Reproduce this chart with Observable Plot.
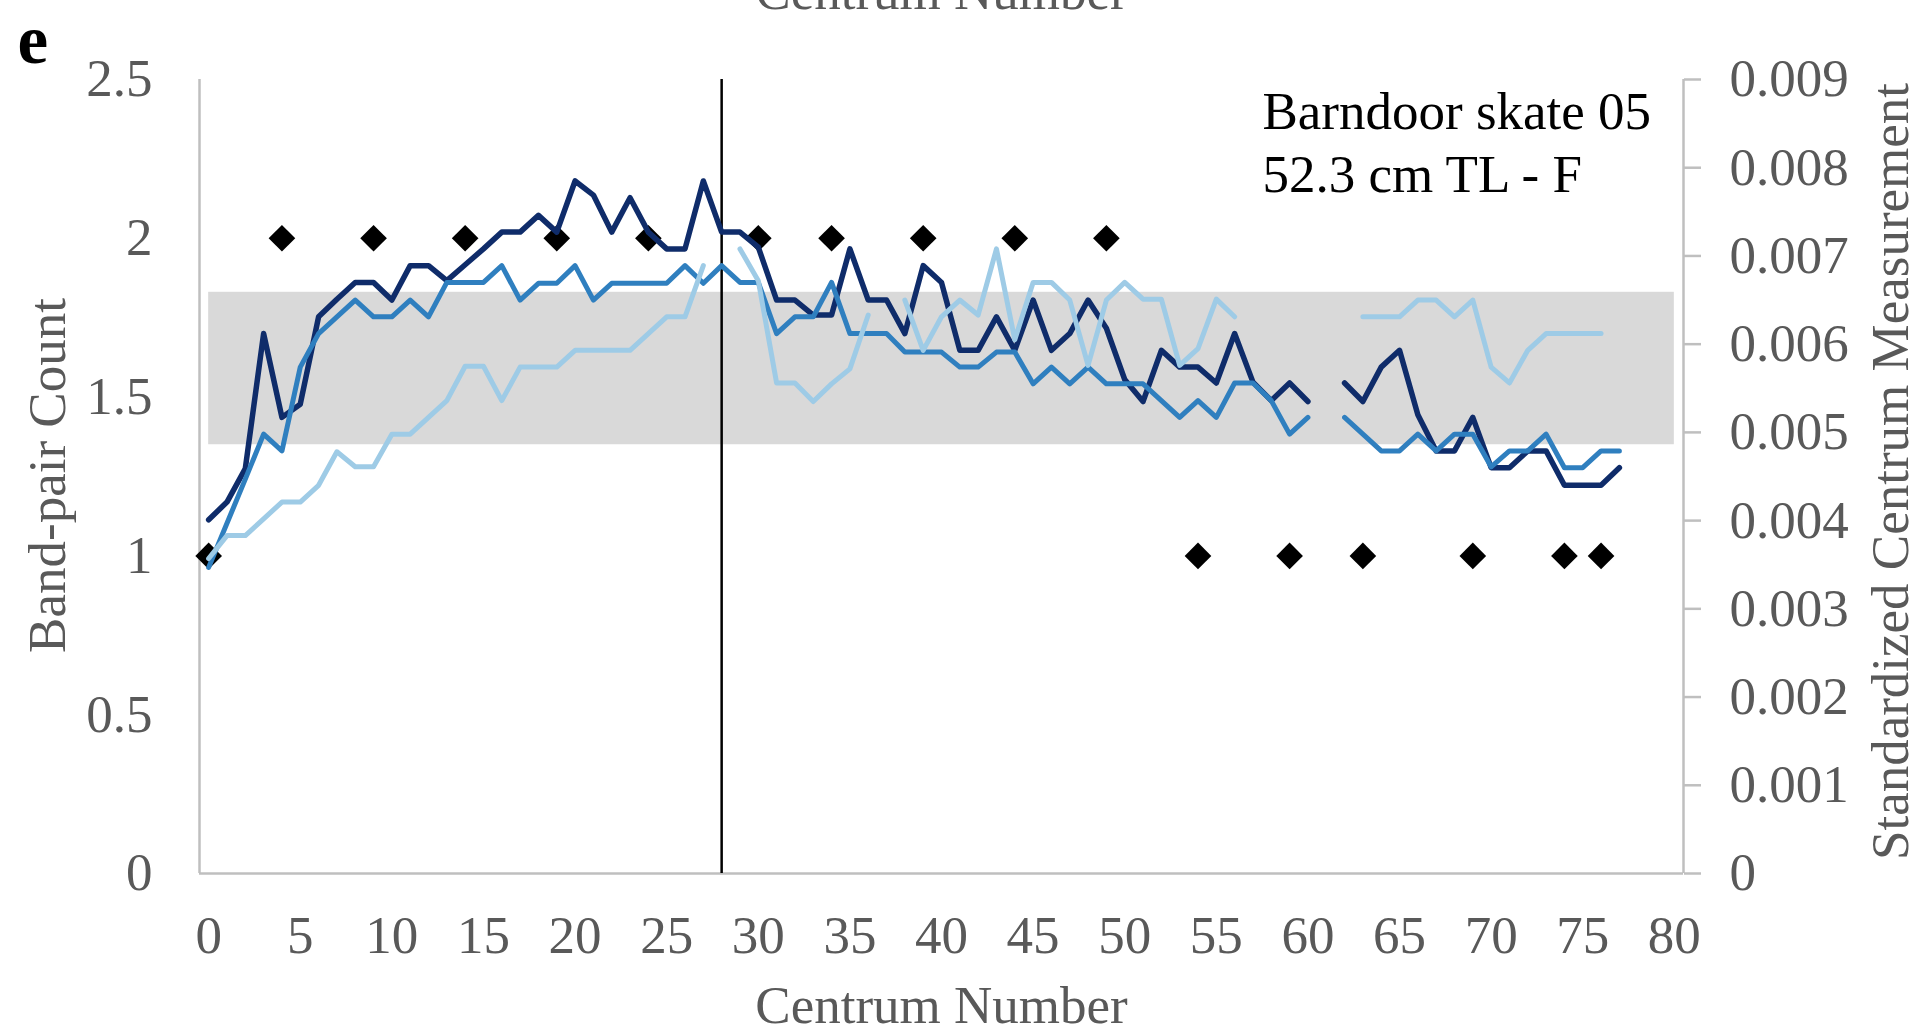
<!DOCTYPE html>
<html>
<head>
<meta charset="utf-8">
<script src="https://cdn.jsdelivr.net/npm/d3@7"></script>
<script src="https://cdn.jsdelivr.net/npm/@observablehq/plot@0.6"></script>
<style>
  html, body { margin: 0; padding: 0; background: #ffffff; overflow: hidden; }
</style>
</head>
<body>
<div id="chart"></div>
<script>
// Centrum positions along the vertebral column
const centrum = d3.range(0, 78);

// Standardized centrum measurements (right axis); null = not measured
const darkSeries = [
  0.00401, 0.00421, 0.00459, 0.00612, 0.00517, 0.00532, 0.00631, 0.00651, 0.00670, 0.00670,
  0.00650, 0.00689, 0.00689, 0.00672, 0.00690, 0.00708, 0.00727, 0.00727, 0.00746, 0.00727,
  0.00785, 0.00769, 0.00727, 0.00766, 0.00727, 0.00708, 0.00708, 0.00785, 0.00727, 0.00727,
  0.00710, 0.00650, 0.00650, 0.00633, 0.00633, 0.00708, 0.00650, 0.00650, 0.00612, 0.00689,
  0.00670, 0.00593, 0.00593, 0.00631, 0.00593, 0.00650, 0.00593, 0.00612, 0.00650, 0.00618,
  0.00560, 0.00535, 0.00593, 0.00574, 0.00574, 0.00556, 0.00612, 0.00557, 0.00536, 0.00556,
  0.00535, null,    0.00556, 0.00535, 0.00574, 0.00593, 0.00520, 0.00479, 0.00479, 0.00517,
  0.00460, 0.00460, 0.00479, 0.00479, 0.00440, 0.00440, 0.00440, 0.00460
];
const midSeries = [
  0.00347, 0.00397, 0.00447, 0.00498, 0.00479, 0.00574, 0.00612, 0.00631, 0.00650, 0.00631,
  0.00631, 0.00650, 0.00631, 0.00670, 0.00670, 0.00670, 0.00689, 0.00650, 0.00669, 0.00669,
  0.00689, 0.00650, 0.00669, 0.00669, 0.00669, 0.00669, 0.00689, 0.00669, 0.00689, 0.00670,
  0.00670, 0.00612, 0.00631, 0.00631, 0.00670, 0.00612, 0.00612, 0.00612, 0.00591, 0.00591,
  0.00591, 0.00574, 0.00574, 0.00591, 0.00591, 0.00555, 0.00574, 0.00555, 0.00574, 0.00555,
  0.00555, 0.00555, 0.00536, 0.00517, 0.00536, 0.00517, 0.00556, 0.00556, 0.00536, 0.00498,
  0.00517, null,    0.00517, 0.00498, 0.00479, 0.00479, 0.00498, 0.00479, 0.00498, 0.00498,
  0.00461, 0.00479, 0.00479, 0.00498, 0.00460, 0.00460, 0.00479, 0.00479
];
const lightSeries = [
  0.00357, 0.00383, 0.00383, 0.00402, 0.00421, 0.00421, 0.00440, 0.00478, 0.00461, 0.00461,
  0.00498, 0.00498, 0.00517, 0.00536, 0.00575, 0.00575, 0.00536, 0.00574, 0.00574, 0.00574,
  0.00593, 0.00593, 0.00593, 0.00593, 0.00612, 0.00631, 0.00631, 0.00689, null,    0.00708,
  0.00672, 0.00556, 0.00556, 0.00535, 0.00555, 0.00572, 0.00633, null,    0.00650, 0.00593,
  0.00631, 0.00650, 0.00633, 0.00708, 0.00605, 0.00670, 0.00670, 0.00650, 0.00576, 0.00650,
  0.00670, 0.00651, 0.00651, 0.00576, 0.00595, 0.00651, 0.00631, null,    null,    null,
  null,    null,    null,    0.00631, 0.00631, 0.00631, 0.00650, 0.00650, 0.00631, 0.00650,
  0.00574, 0.00556, 0.00593, 0.00612, 0.00612, 0.00612, 0.00612, null
];

// Band-pair counts (left axis)
const bandPairCentrum = [0, 4, 9, 14, 19, 24, 30, 34, 39, 44, 49, 54, 59, 63, 69, 74, 76];
const bandPairCount   = [1, 2, 2, 2, 2, 2, 2, 2, 2, 2, 2, 1, 1, 1, 1, 1, 1];

// Shaded range, divider and axis ticks
const shadeFrom = 0, shadeTo = 80, shadeLow = 1.35, shadeHigh = 1.83;
const divider = 28;
const xDomain = [-0.5, 80.5];
const xTicks = d3.range(0, 81, 5);
const leftTicks = [0, 0.5, 1, 1.5, 2, 2.5];
const leftTickLabels = ["0", "0.5", "1", "1.5", "2", "2.5"];
const rightTicks = [0, 0.001, 0.002, 0.003, 0.004, 0.005, 0.006, 0.007, 0.008, 0.009];
const rightTickLabels = ["0", "0.001", "0.002", "0.003", "0.004", "0.005", "0.006", "0.007", "0.008", "0.009"];

// the right axis is mapped onto the left one: 0.009 ↔ 2.5
const k = 2.5 / 0.009;
const rightTickPos = rightTicks.map(v => v * k);

const rows = vals => centrum.map((c, i) => ({c, v: vals[i]}));
const yRight = d => (d.v == null ? NaN : d.v * k);
const diamonds = bandPairCentrum.map((c, i) => ({c, n: bandPairCount[i]}));

const gray = "#595959";
const axisGray = "#bfbfbf";
const fontSize = 53;

const chart = Plot.plot({
  width: 1923,
  height: 1032,
  marginLeft: 199,
  marginRight: 240,
  marginTop: 79,
  marginBottom: 159,
  style: {
    fontFamily: "'Liberation Serif', 'Times New Roman', serif",
    fontSize: fontSize + "px",
    color: gray,
    background: "#ffffff"
  },
  x: {domain: xDomain, axis: null},
  y: {domain: [0, 2.5], axis: null},
  marks: [
    Plot.rect([{x1: shadeFrom, x2: shadeTo, y1: shadeLow, y2: shadeHigh}],
      {x1: "x1", x2: "x2", y1: "y1", y2: "y2", fill: "#d9d9d9"}),
    Plot.ruleX([xDomain[0]], {stroke: axisGray, strokeWidth: 2.5}),
    Plot.ruleX([xDomain[1]], {stroke: axisGray, strokeWidth: 2.5}),
    Plot.ruleY([0], {stroke: axisGray, strokeWidth: 2.5}),
    Plot.ruleX([divider], {stroke: "#000000", strokeWidth: 2.5}),
    Plot.dot(diamonds, {x: "c", y: "n", symbol: "diamond2", r: 12, fill: "#000000", stroke: "none"}),
    Plot.line(rows(darkSeries), {x: "c", y: yRight, stroke: "#0f2c6a", strokeWidth: 5.5}),
    Plot.line(rows(midSeries), {x: "c", y: yRight, stroke: "#2f7fbf", strokeWidth: 5}),
    Plot.line(rows(lightSeries), {x: "c", y: yRight, stroke: "#9ecbe6", strokeWidth: 5}),
    Plot.axisX({ticks: xTicks, tickSize: 0, tickPadding: 42, label: null, fill: gray, fontSize}),
    Plot.axisY({anchor: "left", ticks: leftTicks, tickSize: 0, tickPadding: 47, label: null,
      fill: gray, fontSize, tickFormat: d => leftTickLabels[leftTicks.indexOf(d)]}),
    Plot.axisY({anchor: "right", ticks: rightTickPos, tickSize: 17, tickPadding: 29, label: null,
      stroke: axisGray, strokeWidth: 2.5, fill: gray, fontSize,
      tickFormat: d => rightTickLabels[rightTickPos.indexOf(d)]}),
    // axis titles
    Plot.text(["Centrum Number"], {frameAnchor: "bottom", dy: 149, lineAnchor: "bottom",
      textAnchor: "middle", fill: gray, fontSize}),
    Plot.text(["Centrum Number"], {frameAnchor: "top", dy: -71, lineAnchor: "bottom",
      textAnchor: "middle", fill: gray, fontSize}),
    Plot.text(["Band-pair Count"], {frameAnchor: "left", dx: -135, dy: -1, rotate: -90,
      lineAnchor: "bottom", textAnchor: "middle", fill: gray, fontSize}),
    Plot.text(["Standardized Centrum Measurement"], {frameAnchor: "right", dx: 224, dy: -5, rotate: -90,
      lineAnchor: "bottom", textAnchor: "middle", fill: gray, fontSize}),
    // panel letter and specimen note
    Plot.text(["e"], {frameAnchor: "top-left", dx: -182, dy: -17, lineAnchor: "bottom",
      textAnchor: "start", fill: "#000000", fontSize: 69, fontWeight: "bold"}),
    Plot.text(["Barndoor skate 05\n52.3 cm TL - F"], {frameAnchor: "top-left", dx: 1063, dy: 112.7,
      lineAnchor: "bottom", lineHeight: 1.19, textAnchor: "start", fill: "#000000", fontSize})
  ]
});

document.getElementById("chart").append(chart);
</script>
</body>
</html>
